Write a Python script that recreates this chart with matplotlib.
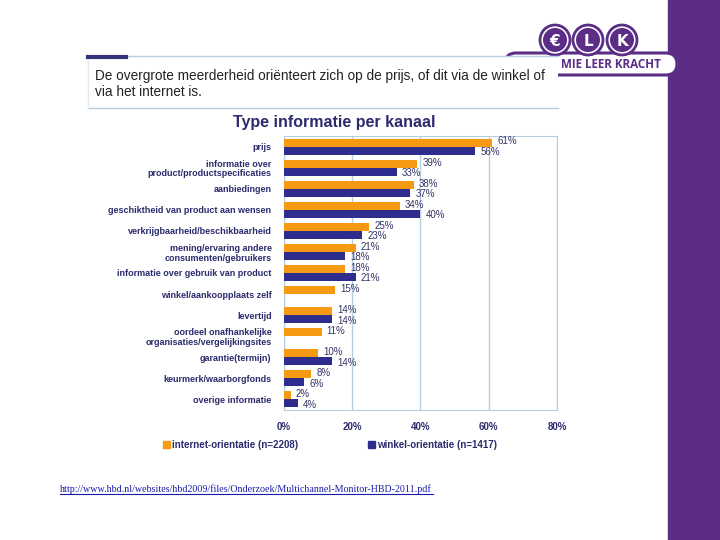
import numpy as np
import matplotlib
matplotlib.use('Agg')
import matplotlib.pyplot as plt
from matplotlib.patches import Rectangle, Circle, FancyBboxPatch

# data
categories = ['prijs',
              'informatie over\nproduct/productspecificaties',
              'aanbiedingen',
              'geschiktheid van product aan wensen',
              'verkrijgbaarheid/beschikbaarheid',
              'mening/ervaring andere\nconsumenten/gebruikers',
              'informatie over gebruik van product',
              'winkel/aankoopplaats zelf',
              'levertijd',
              'oordeel onafhankelijke\norganisaties/vergelijkingsites',
              'garantie(termijn)',
              'keurmerk/waarborgfonds',
              'overige informatie']
internet = [61, 39, 38, 34, 25, 21, 18, 15, 14, 11, 10, 8, 2]
winkel = [56, 33, 37, 40, 23, 18, 21, None, 14, None, 14, 6, 4]
x_ticks = [0, 20, 40, 60, 80]
legend_labels = ['internet-orientatie (n=2208)', 'winkel-orientatie (n=1417)']

orange = '#F59A12'
navy = '#2E2C8C'
text_col = '#2B2B6E'
grid_col = '#B9CDE0'
purple = '#5B2D86'

fig = plt.figure(figsize=(7.2, 5.4), dpi=100)

# slide decoration layer (pixel coords)
bg = fig.add_axes([0, 0, 1, 1])
bg.set_xlim(0, 720)
bg.set_ylim(540, 0)
bg.axis('off')

bg.add_patch(Rectangle((668, 0), 52, 540, color=purple, zorder=1))

# logo banner
bg.add_patch(FancyBboxPatch((505, 53), 172, 22, boxstyle='round,pad=0,rounding_size=11',
                            fc='white', ec=purple, lw=2.2, zorder=2))
bg.text(561, 64, 'MIE LEER KRACHT', color=purple, fontsize=8.4, fontweight='bold',
        family='Open Sans', va='center', ha='left', zorder=3)
for cx, letter in zip([555, 588, 622], ['€', 'L', 'K']):
    bg.add_patch(Circle((cx, 40), 15, fc='white', ec=purple, lw=2, zorder=4))
    bg.add_patch(Circle((cx, 40), 12, fc=purple, ec='none', zorder=5))
    bg.text(cx, 41, letter, color='white', fontsize=11, fontweight='bold',
            ha='center', va='center', zorder=6)

# header box
bg.add_patch(Rectangle((88, 56), 470, 52, fc='white', ec='none', zorder=7))
bg.plot([88, 558], [56, 56], color=grid_col, lw=1, zorder=8)
bg.plot([88, 558], [108, 108], color=grid_col, lw=1, zorder=8)
bg.plot([88, 88], [56, 108], color='#E3EAF2', lw=1, zorder=8)
bg.plot([88, 126], [57, 57], color='#33337A', lw=3, zorder=9)
bg.text(95, 84, 'De overgrote meerderheid oriënteert zich op de prijs, of dit via de winkel of\n'
        'via het internet is.', fontsize=9.8, family='Liberation Sans', color='#222222',
        va='center', ha='left', linespacing=1.2, zorder=9)

bg.text(334, 122, 'Type informatie per kanaal', fontsize=11.5, fontweight='bold',
        family='Liberation Sans', color=text_col, ha='center', va='center')

url = 'http://www.hbd.nl/websites/hbd2009/files/Onderzoek/Multichannel-Monitor-HBD-2011.pdf'
bg.text(60, 489, url, fontsize=7.2, family='Liberation Serif', color='#1A1AAA',
        ha='left', va='center')
bg.plot([60, 433], [494, 494], color='#1A1AAA', lw=0.8)

# chart
ax = fig.add_axes([284 / 720, 1 - 410 / 540, 273 / 720, 274 / 540])
y = np.arange(len(categories))
h = 0.38
for i in range(len(categories)):
    v = internet[i]
    ax.barh(y[i] - 0.19, v, height=h, color=orange, zorder=3)
    ax.text(v + 1.5, y[i] - 0.24, '%d%%' % v, fontsize=7, color='#333366',
            va='center', ha='left', family='Liberation Sans')
    w = winkel[i]
    if w is not None:
        ax.barh(y[i] + 0.19, w, height=h, color=navy, zorder=3)
        ax.text(w + 1.5, y[i] + 0.26, '%d%%' % w, fontsize=7, color='#333366',
                va='center', ha='left', family='Liberation Sans')

ax.set_ylim(len(categories) - 0.5, -0.5)
ax.set_xlim(0, 80)
ax.set_yticks(y)
ax.set_yticklabels(categories, fontsize=6.5, fontweight='bold', color=text_col,
                   family='Liberation Sans', ha='right', linespacing=1.1)
ax.set_xticks(x_ticks)
ax.set_xticklabels(['%d%%' % t for t in x_ticks], fontsize=7, fontweight='bold',
                   color=text_col, family='Liberation Sans')
ax.tick_params(length=0, axis='y', pad=9)
ax.tick_params(length=0, axis='x', pad=9)
ax.grid(axis='x', color=grid_col, lw=1, zorder=0)
for s in ax.spines.values():
    s.set_color(grid_col)

handles = [Rectangle((0, 0), 1, 1, color=orange), Rectangle((0, 0), 1, 1, color=navy)]
leg = fig.legend(handles, legend_labels, loc='center', bbox_to_anchor=(330 / 720, 1 - 445 / 540),
                 ncol=2, frameon=False, handlelength=0.7, handleheight=0.7, handletextpad=0.2,
                 columnspacing=7.2, prop={'family': 'Liberation Sans', 'size': 7, 'weight': 'bold'})
for t in leg.get_texts():
    t.set_color(text_col)

fig.savefig('out.png', dpi=100)
